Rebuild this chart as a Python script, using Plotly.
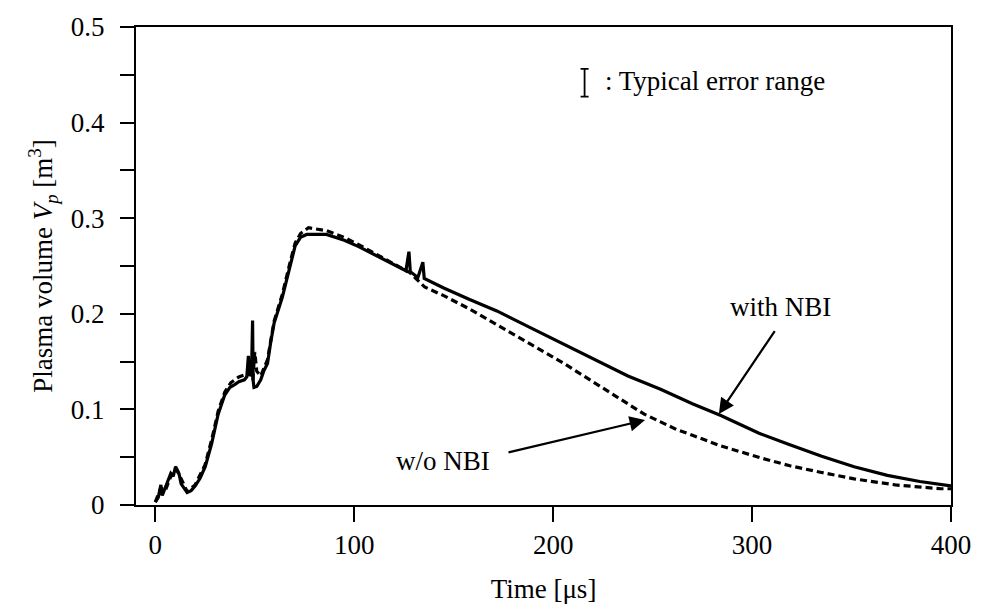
import plotly.graph_objects as go

# ---- data ----
with_t = [0, 1.5, 2.8, 3.5, 5, 7.8, 9, 10.2, 11.2, 11.9, 13, 16, 18, 20.1, 22.5, 25.1, 28.3,
          31.6, 34.9, 37.5, 39.9, 42, 44.8, 46, 46.8, 47.2, 48.4, 48.9, 49.2, 49.6, 51, 53,
          54.5, 56.4, 58, 59.7, 63.8, 67.9, 70.3, 73, 76.1, 86, 95, 102.5, 110, 119, 126,
          127.5, 128.2, 132, 134.5, 135.2, 145, 158, 171.7, 188, 204.7, 221, 237.6, 254,
          270, 284.3, 303.5, 318.3, 335, 351.3, 368, 384.3, 400]
with_v = [0.003, 0.008, 0.021, 0.010, 0.018, 0.033, 0.030, 0.040, 0.036, 0.033, 0.022, 0.013,
          0.015, 0.020, 0.028, 0.040, 0.064, 0.095, 0.115, 0.123, 0.126, 0.129, 0.131, 0.134,
          0.156, 0.135, 0.140, 0.193, 0.130, 0.123, 0.124, 0.131, 0.140, 0.148, 0.170, 0.190,
          0.217, 0.251, 0.271, 0.280, 0.283, 0.283, 0.277, 0.270, 0.262, 0.252, 0.245, 0.265,
          0.244, 0.238, 0.254, 0.237, 0.227, 0.215, 0.203, 0.186, 0.169, 0.152, 0.135, 0.121,
          0.106, 0.0936, 0.075, 0.0635, 0.051, 0.040, 0.031, 0.0246, 0.020]

wo_t = [0, 2.8, 5, 7.8, 10.2, 12, 16, 20, 25, 28.3, 31.6, 34.9, 38, 42, 44.8, 47, 48.5, 49,
        50, 51, 53, 56.4, 59.7, 63.8, 67.9, 70.3, 73, 77, 86, 95, 102.5, 115, 128, 135.4,
        145, 158, 171.7, 188, 204.7, 225, 245.8, 254, 262, 270, 284, 304, 319, 335, 351.3,
        372, 395, 400]
wo_v = [0.003, 0.018, 0.015, 0.030, 0.038, 0.032, 0.014, 0.021, 0.042, 0.068, 0.098, 0.118,
        0.128, 0.134, 0.136, 0.138, 0.150, 0.130, 0.160, 0.140, 0.135, 0.152, 0.192, 0.220,
        0.255, 0.274, 0.284, 0.290, 0.287, 0.280, 0.272, 0.258, 0.243, 0.228, 0.219, 0.205,
        0.189, 0.169, 0.149, 0.122, 0.095, 0.087, 0.079, 0.073, 0.062, 0.0495, 0.041, 0.034,
        0.0273, 0.021, 0.017, 0.017]

x_ticks = [0, 100, 200, 300, 400]
y_ticks = [0, 0.1, 0.2, 0.3, 0.4, 0.5]
y_tick_labels = ["0", "0.1", "0.2", "0.3", "0.4", "0.5"]

err_t = [215.8]
err_v = [0.4416]
err_half = [0.0145]

FONT = "Liberation Serif, Times New Roman, serif"
FS = 27

fig = go.Figure()
fig.add_trace(go.Scatter(x=wo_t, y=wo_v, mode="lines", name="w/o NBI",
                         line=dict(color="black", width=3.2, dash="7px,4px")))
fig.add_trace(go.Scatter(x=with_t, y=with_v, mode="lines", name="with NBI",
                         line=dict(color="black", width=3.2)))
fig.add_trace(go.Scatter(x=err_t, y=err_v, mode="markers",
                         marker=dict(size=1, color="rgba(0,0,0,0)"),
                         error_y=dict(type="data", array=err_half, color="black",
                                      thickness=1.8, width=4)))

fig.add_annotation(x=224.9, y=0.4437, xref="x", yref="y", text=": Typical error range",
                   showarrow=False, xanchor="left", yanchor="middle",
                   font=dict(family=FONT, size=FS, color="black"))
fig.add_annotation(x=287.8, y=0.207, xref="x", yref="y", text="with NBI",
                   showarrow=False, xanchor="left", yanchor="middle",
                   font=dict(family=FONT, size=FS, color="black"))
fig.add_annotation(x=283.3, y=0.0953, ax=311.9, ay=0.1834, xref="x", yref="y",
                   axref="x", ayref="y", text="", showarrow=True, arrowhead=2,
                   arrowsize=1.4, arrowwidth=2.2, arrowcolor="black")
fig.add_annotation(x=144.6, y=0.046, xref="x", yref="y", text="w/o NBI",
                   showarrow=False, xanchor="center", yanchor="middle",
                   font=dict(family=FONT, size=FS, color="black"))
fig.add_annotation(x=246.2, y=0.0888, ax=176.8, ay=0.0546, xref="x", yref="y",
                   axref="x", ayref="y", text="", showarrow=True, arrowhead=2,
                   arrowsize=1.4, arrowwidth=2.2, arrowcolor="black")

fig.update_xaxes(range=[-9.7, 400], tickvals=x_ticks, ticks="outside", ticklen=15,
                 tickwidth=2, tickcolor="black", showline=True, linewidth=2,
                 linecolor="black", mirror=True, showgrid=False, zeroline=False,
                 ticklabeloverflow="allow",
                 tickfont=dict(family=FONT, size=FS, color="black"),
                 title=dict(text="Time [μs]", font=dict(family=FONT, size=FS, color="black"),
                            standoff=20))
fig.update_yaxes(range=[0, 0.5], tickvals=y_ticks, ticktext=y_tick_labels, ticks="outside",
                 ticklen=14, tickwidth=2, tickcolor="black", showline=True, linewidth=2,
                 linecolor="black", mirror=True, showgrid=False, zeroline=False,
                 ticklabelstandoff=10,
                 minor=dict(tickvals=[0.05, 0.15, 0.25, 0.35, 0.45], ticks="outside",
                            ticklen=14, tickwidth=2, tickcolor="black", showgrid=False),
                 tickfont=dict(family=FONT, size=FS, color="black"),
                 title=dict(text="Plasma volume <i>V<sub>p</sub></i> [m<sup>3</sup>]",
                            font=dict(family=FONT, size=FS, color="black"), standoff=10))

fig.update_layout(width=983, height=616, margin=dict(l=136, r=20, t=17, b=111),
                  paper_bgcolor="white", plot_bgcolor="white", showlegend=False)

fig.write_html("out.html")
